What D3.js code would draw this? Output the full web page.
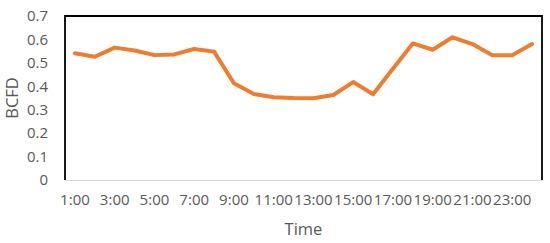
<!DOCTYPE html>
<html>
<head>
<meta charset="utf-8">
<script src="https://cdn.jsdelivr.net/npm/d3@7"></script>
<style>
  body { margin: 0; background: #fff; }
  text { font-family: "Open Sans", sans-serif; fill: #595959; }
</style>
</head>
<body>
<div id="chart"></div>
<script>
// hours on the category axis
let hours = d3.range(1, 25).map(h => h + ":00");
// BCFD
let bcfd = [0.541, 0.526, 0.565, 0.553, 0.533, 0.536, 0.559, 0.548, 0.413, 0.367,
            0.353, 0.350, 0.349, 0.363, 0.418, 0.366, 0.475, 0.583, 0.556, 0.609,
            0.580, 0.533, 0.533, 0.580];
let yTicks = [0, 0.1, 0.2, 0.3, 0.4, 0.5, 0.6, 0.7];

const width = 550, height = 243;
const margin = {top: 16, right: 8, bottom: 63, left: 65};

let svg = d3.select("#chart").append("svg")
  .attr("width", width).attr("height", height);

let x = d3.scaleBand().domain(hours)
  .range([margin.left, width - margin.right]);
let y = d3.scaleLinear().domain([0, 0.7])
  .range([height - margin.bottom, margin.top]);

// y tick labels
svg.append("g")
  .attr("transform", `translate(${margin.left},0)`)
  .call(d3.axisLeft(y).tickValues(yTicks).tickFormat(d => d === 0 ? "0" : d3.format(".1f")(d)).tickSize(0).tickPadding(17))
  .call(g => g.select(".domain").remove())
  .selectAll("text").style("font-size", "15px").attr("fill", "#595959");

// x tick labels, every other hour
svg.append("g")
  .attr("transform", `translate(0,${height - margin.bottom})`)
  .call(d3.axisBottom(x).tickValues(hours.filter((d, i) => i % 2 === 0)).tickSize(0).tickPadding(14))
  .call(g => g.select(".domain").attr("stroke", "#d9d9d9"))
  .selectAll("text").style("font-size", "15px").attr("fill", "#595959");

// frame: left, top, right in black
let x0 = margin.left, x1 = width - margin.right, y0 = margin.top, y1 = height - margin.bottom;
svg.append("path")
  .attr("d", `M${x0},${y1}V${y0}H${x1}V${y1}`)
  .attr("fill", "none").attr("stroke", "#000").attr("stroke-width", 1.8);

// the line
let line = d3.line()
  .x((d, i) => x(hours[i]) + x.bandwidth() / 2)
  .y(d => y(d));
svg.append("path")
  .datum(bcfd)
  .attr("d", line)
  .attr("fill", "none")
  .attr("stroke", "#ed7d31")
  .attr("stroke-width", 4)
  .attr("stroke-linejoin", "round")
  .attr("stroke-linecap", "round");

// axis titles
svg.append("text")
  .attr("x", (x0 + x1) / 2).attr("y", 235)
  .attr("text-anchor", "middle")
  .style("font-size", "16.5px")
  .text("Time");
svg.append("text")
  .attr("transform", `translate(18,${(y0 + y1) / 2}) rotate(-90)`)
  .attr("text-anchor", "middle")
  .style("font-size", "16.5px")
  .text("BCFD");
</script>
</body>
</html>
